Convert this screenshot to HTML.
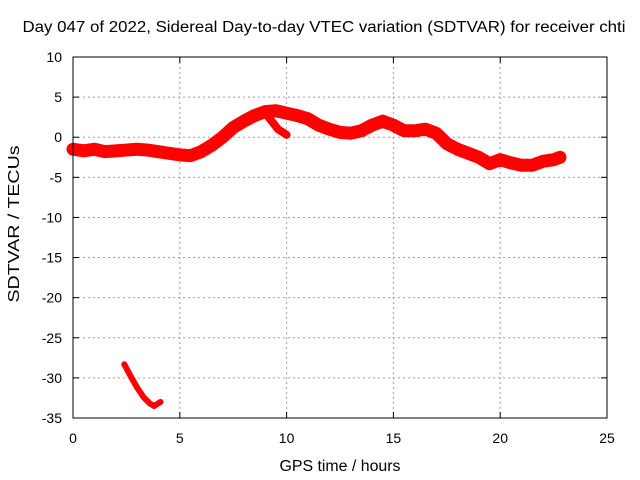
<!DOCTYPE html>
<html><head><meta charset="utf-8"><style>
body{margin:0;background:#fff}
svg{display:block;font-family:"Liberation Sans",sans-serif;font-size:14px}
</style></head><body>
<svg id="c" width="640" height="480">
<rect width="640" height="480" fill="#fff"/>
<text x="324" y="32" text-anchor="middle" font-size="15.5" textLength="603" lengthAdjust="spacingAndGlyphs">Day 047 of 2022, Sidereal Day-to-day VTEC variation (SDTVAR) for receiver chti</text>
<text x="340" y="471" text-anchor="middle" font-size="15.5" textLength="121" lengthAdjust="spacingAndGlyphs">GPS time / hours</text>
<text transform="translate(19,224) rotate(-90)" text-anchor="middle" font-size="15.5" textLength="157" lengthAdjust="spacingAndGlyphs">SDTVAR / TECUs</text>
<g id="grid"></g><g id="marks"></g>
<rect x="73" y="57" width="534" height="361" fill="none" stroke="#000" stroke-width="1"/>
</svg>
<script>
const xTicks=[0,5,10,15,20,25];
const yTicks=[10,5,0,-5,-10,-15,-20,-25,-30,-35];
const mainT=[0,0.5,1,1.5,2,2.5,3,3.5,4,4.5,5,5.5,6,6.5,7,7.5,8,8.5,9,9.5,10,10.5,11,11.5,12,12.5,13,13.5,14,14.5,15,15.5,16,16.5,17,17.5,18,18.5,19,19.5,20,20.5,21,21.5,22,22.5,22.8];
const mainV=[-1.5,-1.7,-1.5,-1.8,-1.7,-1.6,-1.5,-1.6,-1.8,-2,-2.2,-2.3,-1.8,-1,0,1.2,2,2.7,3.2,3.3,3,2.7,2.3,1.5,1,0.6,0.5,0.8,1.5,2,1.5,0.8,0.8,1,0.5,-0.8,-1.5,-2,-2.5,-3.3,-2.8,-3.2,-3.5,-3.5,-3,-2.8,-2.5];
const branchT=[8.5,9,9.3,9.6,10];
const branchV=[2.5,3,2,1,0.3];
const lowT=[2.4,2.7,3,3.3,3.6,3.8,4.1];
const lowV=[-28.3,-29.8,-31.2,-32.4,-33.2,-33.5,-33];
const X=t=>73+t*534/25, Y=v=>57+(10-v)*361/45;
const ns="http://www.w3.org/2000/svg";
const svg=document.getElementById('c'),g=document.getElementById('grid'),m=document.getElementById('marks');
function mk(tag,at,par){const e=document.createElementNS(ns,tag);for(const k in at)e.setAttribute(k,at[k]);par.appendChild(e);return e;}
xTicks.forEach(t=>{
 const l=mk('line',{x1:X(t),x2:X(t),y1:57,y2:418,stroke:'#a0a0a0','stroke-dasharray':'2,3'},g);
 
 
 mk('line',{x1:X(t),x2:X(t),y1:418,y2:412,stroke:'#000'},g);
 mk('line',{x1:X(t),x2:X(t),y1:57,y2:63,stroke:'#000'},g);
 const tx=mk('text',{x:X(t),y:443,'text-anchor':'middle'},g);tx.textContent=t;
 
 
});
yTicks.forEach(v=>{
 const l=mk('line',{x1:73,x2:607,y1:Y(v),y2:Y(v),stroke:'#a0a0a0','stroke-dasharray':'2,3'},g);
 
 
 mk('line',{x1:73,x2:79,y1:Y(v),y2:Y(v),stroke:'#000'},g);
 mk('line',{x1:607,x2:601,y1:Y(v),y2:Y(v),stroke:'#000'},g);
 const tx=mk('text',{x:62,y:Y(v)+5,'text-anchor':'end'},g);tx.textContent=v;
 
 
});
function series(T,V,w,name){
 const p=mk('polyline',{points:T.map((t,i)=>X(t)+','+Y(V[i])).join(' '),fill:'none',stroke:'#f00','stroke-width':w,'stroke-linejoin':'round','stroke-linecap':'round'},m);
 
 
}
series(mainT,mainV,13,'sdtvar-main-series');
series(branchT,branchV,8,'sdtvar-branch-series');
series(lowT,lowV,6,'sdtvar-low-series');
</script>
</body></html>
